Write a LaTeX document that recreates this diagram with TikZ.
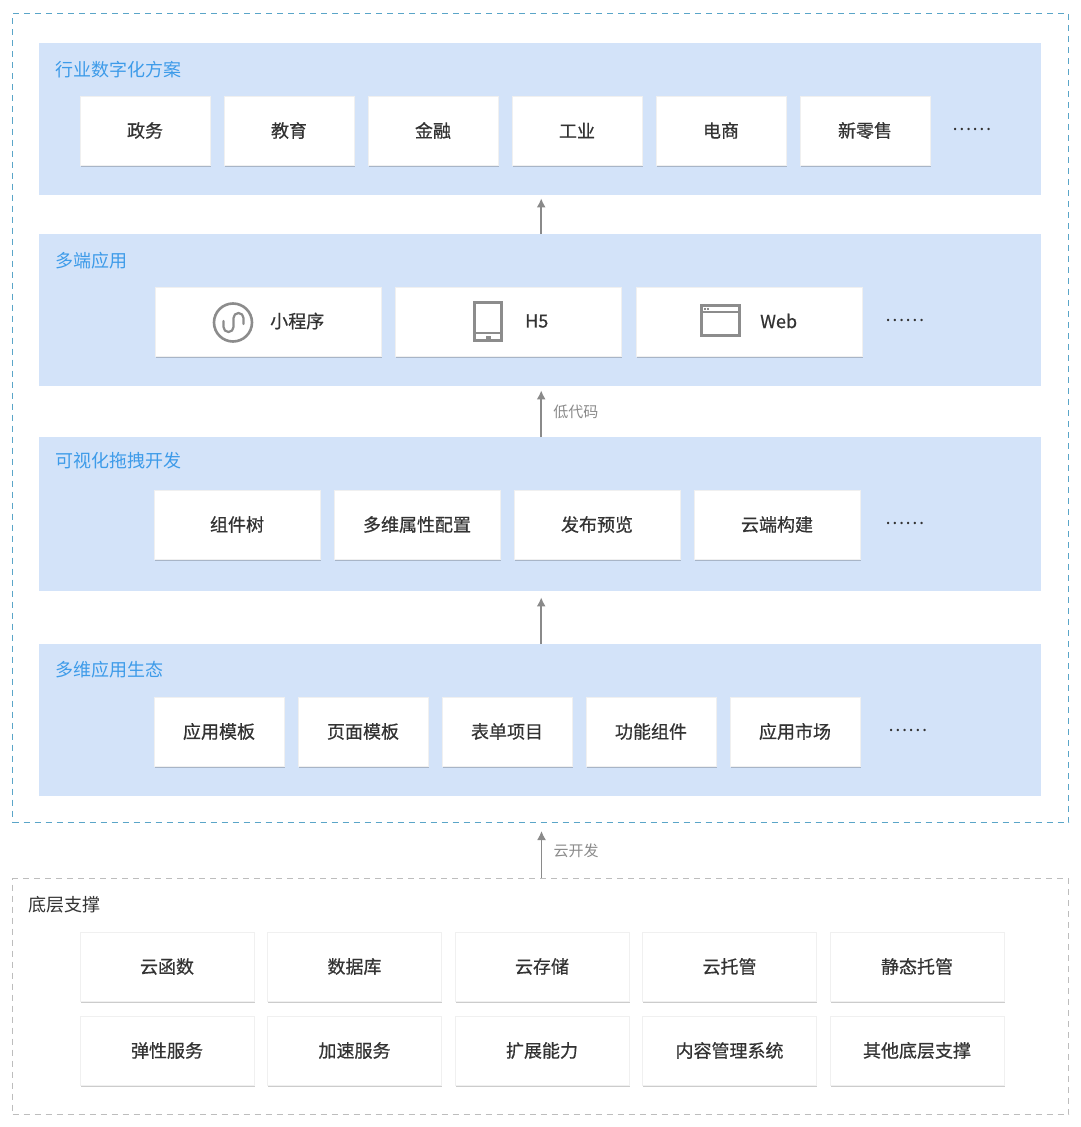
\documentclass[tikz,border=0pt]{standalone}
\usepackage{fontspec}
\setmainfont{Noto Sans CJK SC}
\newfontfamily\itemfont[FakeBold=0.6]{Noto Sans CJK SC}
\usepackage{xcolor}
\usetikzlibrary{arrows.meta}
\usetikzlibrary{shadows}
\usetikzlibrary{positioning}

\definecolor{bandblue}{HTML}{D3E3F9}
\definecolor{titleblue}{HTML}{3D9BE9}
\definecolor{cloudline}{HTML}{5AA5C8}
\definecolor{baseline}{HTML}{BDBDBD}
\definecolor{textgray}{HTML}{333333}
\definecolor{icongray}{HTML}{8C8C8C}
\definecolor{arrowgray}{HTML}{8A8A8A}

\tikzset{
  band/.style={fill=bandblue, minimum width=1002pt, minimum height=152pt, inner sep=0pt, anchor=north west},
  layertitle/.style={anchor=west, inner sep=0pt, text=titleblue, font=\fontsize{18}{20}\selectfont},
  item/.style={fill=white, draw=black!6, line width=0.8pt, text=textgray, font=\itemfont\fontsize{18}{20}\selectfont,
    minimum height=69pt, inner sep=0pt,
    drop shadow={shadow xshift=0.6pt, shadow yshift=-1.6pt, fill=black, opacity=0.2}},
  plain/.style={text=textgray, font=\itemfont\fontsize{18}{20}\selectfont, anchor=west, inner sep=0pt},
  more/.style={text=textgray, font=\fontsize{18}{20}\selectfont},
  frame/.style={dashed, dash pattern=on 6pt off 5pt, line width=1pt, inner sep=0pt, anchor=north west, minimum width=1056pt},
  icon/.style={draw=icongray, line width=2.6pt},
  up/.style={draw=arrowgray, line width=1.5pt, -{Latex[length=9pt, width=9pt]}},
  note/.style={right=8pt, text=arrowgray, font=\fontsize{15}{17}\selectfont}
}

\begin{document}
\begin{tikzpicture}[x=1pt, y=-1pt]
  \useasboundingbox[fill=white] (0,0) rectangle (1080,1127);

  \node[frame, draw=cloudline, minimum height=809pt] (cloudapp) at (12,13) {};
  \node[frame, draw=baseline, minimum height=236pt] (base) at (12,878) {};

  \node[band] (industry) at (39,43) {};
  \node[band] (client) at (39,234) {};
  \node[band, minimum height=154pt] (visual) at (39,437) {};
  \node[band] (ecology) at (39,644) {};

  \node[layertitle] (industry-t) at (55,70) {行业数字化方案};
  \node[layertitle] (client-t) at (55,261) {多端应用};
  \node[layertitle] (visual-t) at (55,461) {可视化拖拽开发};
  \node[layertitle] (ecology-t) at (55,670) {多维应用生态};
  \node[layertitle, text=textgray] (base-t) at (28,905) {底层支撑};

  \foreach \txt [count=\i from 0] in {政务, 教育, 金融, 工业, 电商, 新零售}
    \node[item, minimum width=130pt] (ind-\i) at (145+\i*144, 130.5) {\txt};
  \node[more] (ind-more) at (972,129) {……};

  \foreach \i / \x in {0/268, 1/508, 2/749}
    \node[item, minimum width=226pt] (cli-\i) at (\x, 321.5) {};
  \node[plain] (cli-0-t) at (270,321) {小程序};
  \node[plain] (cli-1-t) at (525,321) {H5};
  \node[plain] (cli-2-t) at (760,321) {Web};
  \node[more] (cli-more) at (905,320) {……};

  \draw[icon] (233,322.5) circle[radius=19];
  \draw[icon, line width=2.2pt, line cap=round] (223.5,321) -- (223.5,327) arc[start angle=180, end angle=0, radius=5]
    -- (233.5,318) arc[start angle=180, end angle=360, radius=5] -- (243.5,324);
  \draw[icon] (474.5,302.5) rectangle (501.5,340.5);
  \draw[icon] (474.5,333) -- (501.5,333);
  \fill[icongray] (485.5,335.5) rectangle (490.5,338.5);
  \draw[icon] (701.5,305.5) rectangle (739.5,335.5);
  \draw[icon] (701.5,312) -- (739.5,312);
  \fill[icongray] (704,308) rectangle (706,309.5);
  \fill[icongray] (707,308) rectangle (709,309.5);

  \foreach \txt [count=\i from 0] in {组件树, 多维属性配置, 发布预览, 云端构建}
    \node[item, minimum width=166pt] (vis-\i) at (237+\i*180, 524.5) {\txt};
  \node[more] (vis-more) at (905,523) {……};

  \foreach \txt [count=\i from 0] in {应用模板, 页面模板, 表单项目, 功能组件, 应用市场}
    \node[item, minimum width=130pt] (eco-\i) at (219+\i*144, 731.5) {\txt};
  \node[more] (eco-more) at (908,730) {……};

  \foreach \txt [count=\i from 0] in {云函数, 数据库, 云存储, 云托管, 静态托管}
    \node[item, minimum width=174pt] (top-\i) at (167+\i*187.5, 966.5) {\txt};
  \foreach \txt [count=\i from 0] in {弹性服务, 加速服务, 扩展能力, 内容管理系统, 其他底层支撑}
    \node[item, minimum width=174pt] (low-\i) at (167+\i*187.5, 1050.5) {\txt};

  \draw[up, shorten >=3pt] ([xshift=1pt]client.north) -- ([xshift=1pt]industry.south);
  \draw[up, shorten >=4pt] ([xshift=1pt]visual.north) -- node[note] {低代码} ([xshift=1pt]client.south);
  \draw[up, shorten >=6pt] ([xshift=1pt]ecology.north) -- ([xshift=1pt]visual.south);
  \draw[up, shorten >=8pt] ([xshift=1pt]base.north) -- node[note] {云开发} ([xshift=1pt]cloudapp.south);
\end{tikzpicture}
\end{document}
